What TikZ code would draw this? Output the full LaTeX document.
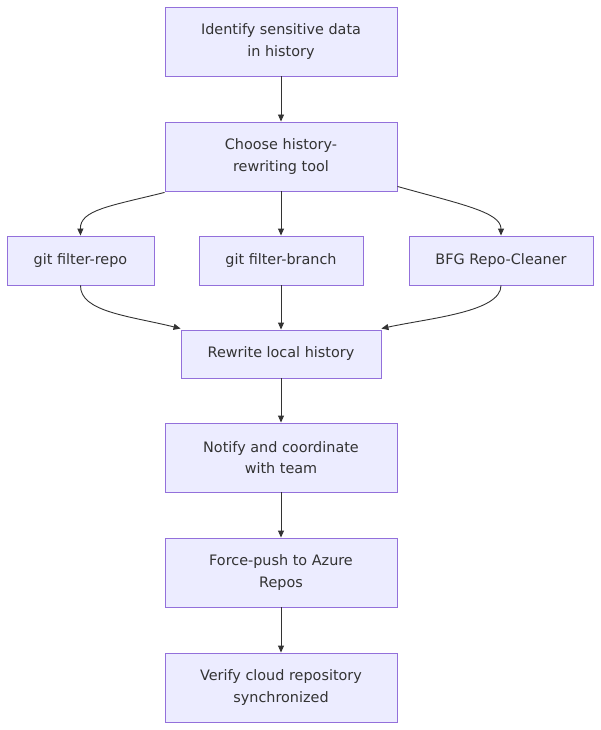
\documentclass[tikz,border=0pt]{standalone}
\usepackage{fontspec}
\setmainfont{DejaVu Sans}
\usetikzlibrary{arrows.meta}
\definecolor{nodefill}{HTML}{ECECFF}
\definecolor{nodeline}{HTML}{9370DB}
\definecolor{edgecol}{HTML}{333333}
\definecolor{txt}{HTML}{333333}
\begin{document}
\begin{tikzpicture}[x=1pt,y=-1pt,
  box/.style={draw=nodeline, fill=nodefill, line width=0.9pt, inner sep=0pt,
    text=txt, align=center, font=\fontsize{14.4}{21.5}\selectfont},
  edge/.style={draw=edgecol, line width=0.9pt, -{Triangle[length=7pt,width=6pt]}}]
\useasboundingbox (0,0) rectangle (600,730);
\node[box, minimum width=232pt, minimum height=69pt] (identify) at (281,41.5) {Identify sensitive data\\in history};
\node[box, minimum width=232pt, minimum height=69pt] (choose) at (281,156.5) {Choose history-\\rewriting tool};
\node[box, minimum width=147pt, minimum height=49pt] (repo) at (80.5,260.5) {git filter-repo};
\node[box, minimum width=164pt, minimum height=49pt] (branch) at (281,260.5) {git filter-branch};
\node[box, minimum width=184pt, minimum height=49pt] (bfg) at (501,260.5) {BFG Repo-Cleaner};
\node[box, minimum width=200pt, minimum height=48pt] (rewrite) at (281,354) {Rewrite local history};
\node[box, minimum width=232pt, minimum height=69pt] (notify) at (281,457.5) {Notify and coordinate\\with team};
\node[box, minimum width=232pt, minimum height=69pt] (push) at (281,572.5) {Force-push to Azure\\Repos};
\node[box, minimum width=232pt, minimum height=69pt] (verify) at (281,687.5) {Verify cloud repository\\synchronized};
\draw[edge] (identify) -- (choose);
\draw[edge] (choose) -- (branch);
\draw[edge] ([yshift=-1pt]choose.south west) .. controls (110,206) and (80,210) .. (repo.north);
\draw[edge] ([yshift=5pt]choose.south east) .. controls (460,204) and (501,212) .. (bfg.north);
\draw[edge] (branch) -- (rewrite);
\draw[edge] (repo.south) .. controls (80,312) and (130,316) .. ([yshift=1pt]rewrite.north west);
\draw[edge] (bfg.south) .. controls (501,312) and (430,318) .. ([yshift=1pt]rewrite.north east);
\draw[edge] (rewrite) -- (notify);
\draw[edge] (notify) -- (push);
\draw[edge] (push) -- (verify);
\end{tikzpicture}
\end{document}
